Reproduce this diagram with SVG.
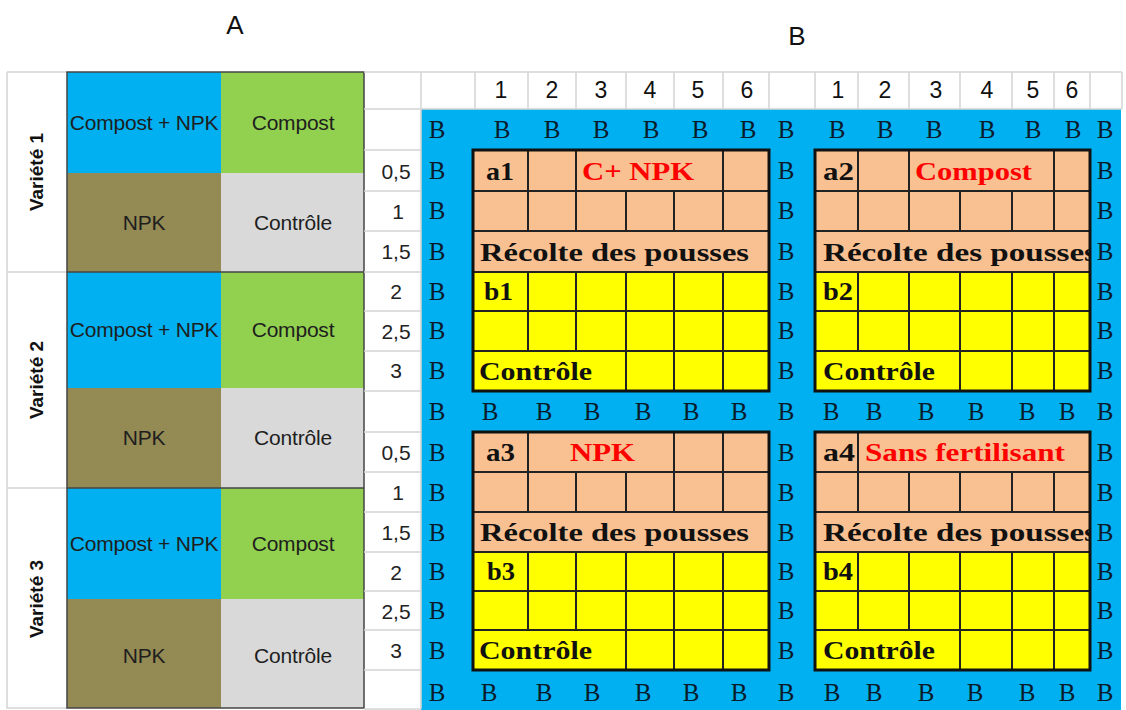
<svg xmlns="http://www.w3.org/2000/svg" width="1126" height="710" viewBox="0 0 1126 710">
<style>
.sans{font-family:"Liberation Sans",Arial,sans-serif}
.lp{font-family:"Liberation Sans",Arial,sans-serif;font-size:21px;fill:#1e1e1e;text-anchor:middle;letter-spacing:-0.2px}
.var{font-family:"Liberation Sans",Arial,sans-serif;font-size:19px;font-weight:bold;fill:#111;text-anchor:middle}
.hd{font-family:"Liberation Sans",Arial,sans-serif;font-size:23px;fill:#111;text-anchor:middle}
.rl{font-family:"Liberation Sans",Arial,sans-serif;font-size:21px;fill:#222;text-anchor:middle}
.bb{font-family:"Liberation Serif","Times New Roman",serif;font-size:25px;fill:#0a1a2a;text-anchor:middle}
.bt{font-family:"Liberation Serif","Times New Roman",serif;font-size:25px;font-weight:bold;fill:#111}
.rt{font-family:"Liberation Serif","Times New Roman",serif;font-size:25px;font-weight:bold;fill:#ff0000}
.grid{stroke:#d4d4d4;stroke-width:1.5;fill:none}
.inner{stroke:#222;stroke-width:2;fill:none}
.outer{stroke:#111;stroke-width:3;fill:none}
.sal{fill:#f9c192}
.yel{fill:#ffff00}
</style>
<defs>
<clipPath id="clip2"><rect x="815" y="231" width="274" height="41"/></clipPath>
<clipPath id="clip4"><rect x="815" y="512" width="274" height="40"/></clipPath>
</defs>
<rect width="1126" height="710" fill="#ffffff"/>

<!-- Titles -->
<text class="sans" x="235" y="34" font-size="26" text-anchor="middle" fill="#111">A</text>
<text class="sans" x="797" y="45" font-size="26" text-anchor="middle" fill="#111">B</text>

<!-- Panel A -->
<g id="panelA">
  <g id="v1">
    <rect x="67" y="72" width="154" height="101" fill="#00b0f0"/>
    <rect x="221" y="72" width="143" height="101" fill="#92d050"/>
    <rect x="67" y="173" width="154" height="99" fill="#948a54"/>
    <rect x="221" y="173" width="143" height="99" fill="#d9d9d9"/>
    <text class="lp" x="144" y="130">Compost + NPK</text>
    <text class="lp" x="293" y="130">Compost</text>
    <text class="lp" x="144" y="230">NPK</text>
    <text class="lp" x="293" y="230">Contrôle</text>
    <text class="var" transform="translate(43,172) rotate(-90)">Variété 1</text>
  </g>
  <g id="v2">
    <rect x="67" y="272" width="154" height="116" fill="#00b0f0"/>
    <rect x="221" y="272" width="143" height="116" fill="#92d050"/>
    <rect x="67" y="388" width="154" height="100" fill="#948a54"/>
    <rect x="221" y="388" width="143" height="100" fill="#d9d9d9"/>
    <text class="lp" x="144" y="337">Compost + NPK</text>
    <text class="lp" x="293" y="337">Compost</text>
    <text class="lp" x="144" y="445">NPK</text>
    <text class="lp" x="293" y="445">Contrôle</text>
    <text class="var" transform="translate(43,380) rotate(-90)">Variété 2</text>
  </g>
  <g id="v3">
    <rect x="67" y="488" width="154" height="111" fill="#00b0f0"/>
    <rect x="221" y="488" width="143" height="111" fill="#92d050"/>
    <rect x="67" y="599" width="154" height="109" fill="#948a54"/>
    <rect x="221" y="599" width="143" height="109" fill="#d9d9d9"/>
    <text class="lp" x="144" y="551">Compost + NPK</text>
    <text class="lp" x="293" y="551">Compost</text>
    <text class="lp" x="144" y="663">NPK</text>
    <text class="lp" x="293" y="663">Contrôle</text>
    <text class="var" transform="translate(43,599) rotate(-90)">Variété 3</text>
  </g>
  <path class="grid" d="M7 72 H67 M7 72 V708 H67 M7 272 H67 M7 488 H67"/>
  <rect x="67" y="72" width="297" height="636" fill="none" stroke="#444" stroke-width="1.5"/>
  <path d="M67 272 H364 M67 488 H364" stroke="#444" stroke-width="1.5"/>
</g>

<!-- Panel B background -->
<g id="panelB-grid">
  <rect x="421" y="109" width="700" height="601" fill="#00b0f0"/>
  <path class="grid" d="M364 72 H1122 M364 109 H421 M421 109 H1122 M364 150 H421 M364 191 H421 M364 231 H421 M364 272 H421 M364 311 H421 M364 351 H421 M364 391 H421 M364 432 H421 M364 472 H421 M364 512 H421 M364 552 H421 M364 591 H421 M364 630 H421 M364 670 H421 M364 709 H421"/>
  <path class="grid" d="M421 72 V709 M475 72 V109 M528 72 V109 M576 72 V109 M626 72 V109 M674 72 V109 M723 72 V109 M769 72 V109 M815 72 V109 M858 72 V109 M909 72 V109 M960 72 V109 M1012 72 V109 M1054 72 V109 M1090 72 V109 M1122 72 V109"/>
  <g id="colHeaders">
    <text class="hd" x="501" y="98">1</text>
    <text class="hd" x="552" y="98">2</text>
    <text class="hd" x="601" y="98">3</text>
    <text class="hd" x="650" y="98">4</text>
    <text class="hd" x="698" y="98">5</text>
    <text class="hd" x="747" y="98">6</text>
    <text class="hd" x="838" y="98">1</text>
    <text class="hd" x="885" y="98">2</text>
    <text class="hd" x="936" y="98">3</text>
    <text class="hd" x="987" y="98">4</text>
    <text class="hd" x="1033" y="98">5</text>
    <text class="hd" x="1072" y="98">6</text>
  </g>
  <g id="rowLabels">
    <text class="rl" x="396" y="179">0,5</text>
    <text class="rl" x="398" y="219">1</text>
    <text class="rl" x="396" y="259">1,5</text>
    <text class="rl" x="396" y="299">2</text>
    <text class="rl" x="396" y="339">2,5</text>
    <text class="rl" x="396" y="378">3</text>
    <text class="rl" x="396" y="460">0,5</text>
    <text class="rl" x="398" y="500">1</text>
    <text class="rl" x="396" y="540">1,5</text>
    <text class="rl" x="396" y="580">2</text>
    <text class="rl" x="396" y="619">2,5</text>
    <text class="rl" x="396" y="658">3</text>
  </g>
</g>

<!-- Border B labels -->
<g id="borders">
  <text class="bb" x="437" y="138">B</text><text class="bb" x="502" y="138">B</text><text class="bb" x="552" y="138">B</text><text class="bb" x="601" y="138">B</text><text class="bb" x="651" y="138">B</text><text class="bb" x="700" y="138">B</text><text class="bb" x="748" y="138">B</text><text class="bb" x="786" y="138">B</text><text class="bb" x="837" y="138">B</text><text class="bb" x="885" y="138">B</text><text class="bb" x="934" y="138">B</text><text class="bb" x="987" y="138">B</text><text class="bb" x="1033" y="138">B</text><text class="bb" x="1073" y="138">B</text><text class="bb" x="1105" y="138">B</text>
  <text class="bb" x="437" y="420">B</text><text class="bb" x="490" y="420">B</text><text class="bb" x="544" y="420">B</text><text class="bb" x="592" y="420">B</text><text class="bb" x="643" y="420">B</text><text class="bb" x="691" y="420">B</text><text class="bb" x="739" y="420">B</text><text class="bb" x="786" y="420">B</text><text class="bb" x="831" y="420">B</text><text class="bb" x="874" y="420">B</text><text class="bb" x="926" y="420">B</text><text class="bb" x="976" y="420">B</text><text class="bb" x="1027" y="420">B</text><text class="bb" x="1067" y="420">B</text><text class="bb" x="1105" y="420">B</text>
  <text class="bb" x="437" y="701">B</text><text class="bb" x="489" y="701">B</text><text class="bb" x="544" y="701">B</text><text class="bb" x="592" y="701">B</text><text class="bb" x="643" y="701">B</text><text class="bb" x="691" y="701">B</text><text class="bb" x="739" y="701">B</text><text class="bb" x="786" y="701">B</text><text class="bb" x="832" y="701">B</text><text class="bb" x="874" y="701">B</text><text class="bb" x="926" y="701">B</text><text class="bb" x="975" y="701">B</text><text class="bb" x="1027" y="701">B</text><text class="bb" x="1067" y="701">B</text><text class="bb" x="1105" y="701">B</text>
  <g id="sideB">
    <text class="bb" x="437" y="179">B</text><text class="bb" x="786" y="179">B</text><text class="bb" x="1105" y="179">B</text>
    <text class="bb" x="437" y="219">B</text><text class="bb" x="786" y="219">B</text><text class="bb" x="1105" y="219">B</text>
    <text class="bb" x="437" y="260">B</text><text class="bb" x="786" y="260">B</text><text class="bb" x="1105" y="260">B</text>
    <text class="bb" x="437" y="300">B</text><text class="bb" x="786" y="300">B</text><text class="bb" x="1105" y="300">B</text>
    <text class="bb" x="437" y="339">B</text><text class="bb" x="786" y="339">B</text><text class="bb" x="1105" y="339">B</text>
    <text class="bb" x="437" y="379">B</text><text class="bb" x="786" y="379">B</text><text class="bb" x="1105" y="379">B</text>
    <text class="bb" x="437" y="461">B</text><text class="bb" x="786" y="461">B</text><text class="bb" x="1105" y="461">B</text>
    <text class="bb" x="437" y="501">B</text><text class="bb" x="786" y="501">B</text><text class="bb" x="1105" y="501">B</text>
    <text class="bb" x="437" y="541">B</text><text class="bb" x="786" y="541">B</text><text class="bb" x="1105" y="541">B</text>
    <text class="bb" x="437" y="580">B</text><text class="bb" x="786" y="580">B</text><text class="bb" x="1105" y="580">B</text>
    <text class="bb" x="437" y="619">B</text><text class="bb" x="786" y="619">B</text><text class="bb" x="1105" y="619">B</text>
    <text class="bb" x="437" y="659">B</text><text class="bb" x="786" y="659">B</text><text class="bb" x="1105" y="659">B</text>
  </g>
</g>

<!-- Block 1 -->
<g id="block1">
  <rect class="sal" x="473" y="150" width="296" height="122"/>
  <rect class="yel" x="473" y="272" width="296" height="119"/>
  <path class="inner" d="M473 191 H769 M473 231 H769 M473 272 H769 M473 311 H769 M473 351 H769"/>
  <path class="inner" d="M528 150 V191 M576 150 V191 M723 150 V191 M528 191 V231 M576 191 V231 M626 191 V231 M674 191 V231 M723 191 V231 M528 272 V351 M576 272 V351 M626 272 V391 M674 272 V391 M723 272 V391"/>
  <rect class="outer" x="473" y="150" width="296" height="241"/>
  <text class="bt" x="486" y="180" textLength="28" lengthAdjust="spacingAndGlyphs">a1</text>
  <text class="rt" x="582" y="180" textLength="112" lengthAdjust="spacingAndGlyphs">C+ NPK</text>
  <text class="bt" x="480" y="261" textLength="269" lengthAdjust="spacingAndGlyphs">Récolte des pousses</text>
  <text class="bt" x="484" y="300" textLength="29" lengthAdjust="spacingAndGlyphs">b1</text>
  <text class="bt" x="479" y="380" textLength="113" lengthAdjust="spacingAndGlyphs">Contrôle</text>
</g>

<!-- Block 2 -->
<g id="block2">
  <rect class="sal" x="815" y="150" width="275" height="122"/>
  <rect class="yel" x="815" y="272" width="275" height="119"/>
  <path class="inner" d="M815 191 H1090 M815 231 H1090 M815 272 H1090 M815 311 H1090 M815 351 H1090"/>
  <path class="inner" d="M858 150 V191 M909 150 V191 M1054 150 V191 M858 191 V231 M909 191 V231 M960 191 V231 M1012 191 V231 M1054 191 V231 M858 272 V351 M909 272 V351 M960 272 V391 M1012 272 V391 M1054 272 V391"/>
  <text class="bt" x="823" y="180" textLength="31" lengthAdjust="spacingAndGlyphs">a2</text>
  <text class="rt" x="915" y="180" textLength="117" lengthAdjust="spacingAndGlyphs">Compost</text>
  <text class="bt" x="823" y="261" textLength="274" lengthAdjust="spacingAndGlyphs" clip-path="url(#clip2)">Récolte des pousses</text>
  <text class="bt" x="823" y="300" textLength="30" lengthAdjust="spacingAndGlyphs">b2</text>
  <text class="bt" x="823" y="380" textLength="112" lengthAdjust="spacingAndGlyphs">Contrôle</text>
  <rect class="outer" x="815" y="150" width="275" height="241"/>
</g>

<!-- Block 3 -->
<g id="block3">
  <rect class="sal" x="473" y="432" width="296" height="120"/>
  <rect class="yel" x="473" y="552" width="296" height="118"/>
  <path class="inner" d="M473 472 H769 M473 512 H769 M473 552 H769 M473 591 H769 M473 630 H769"/>
  <path class="inner" d="M528 432 V472 M674 432 V472 M723 432 V472 M528 472 V512 M576 472 V512 M626 472 V512 M674 472 V512 M723 472 V512 M528 552 V630 M576 552 V630 M626 552 V670 M674 552 V670 M723 552 V670"/>
  <rect class="outer" x="473" y="432" width="296" height="238"/>
  <text class="bt" x="486" y="461" textLength="29" lengthAdjust="spacingAndGlyphs">a3</text>
  <text class="rt" x="570" y="461" textLength="65" lengthAdjust="spacingAndGlyphs">NPK</text>
  <text class="bt" x="480" y="541" textLength="269" lengthAdjust="spacingAndGlyphs">Récolte des pousses</text>
  <text class="bt" x="487" y="580" textLength="28" lengthAdjust="spacingAndGlyphs">b3</text>
  <text class="bt" x="479" y="659" textLength="113" lengthAdjust="spacingAndGlyphs">Contrôle</text>
</g>

<!-- Block 4 -->
<g id="block4">
  <rect class="sal" x="815" y="432" width="275" height="120"/>
  <rect class="yel" x="815" y="552" width="275" height="118"/>
  <path class="inner" d="M815 472 H1090 M815 512 H1090 M815 552 H1090 M815 591 H1090 M815 630 H1090"/>
  <path class="inner" d="M858 432 V472 M858 472 V512 M909 472 V512 M960 472 V512 M1012 472 V512 M1054 472 V512 M858 552 V630 M909 552 V630 M960 552 V670 M1012 552 V670 M1054 552 V670"/>
  <text class="bt" x="823" y="461" textLength="32" lengthAdjust="spacingAndGlyphs">a4</text>
  <text class="rt" x="865" y="461" textLength="200" lengthAdjust="spacingAndGlyphs">Sans fertilisant</text>
  <text class="bt" x="823" y="541" textLength="274" lengthAdjust="spacingAndGlyphs" clip-path="url(#clip4)">Récolte des pousses</text>
  <text class="bt" x="823" y="580" textLength="30" lengthAdjust="spacingAndGlyphs">b4</text>
  <text class="bt" x="823" y="659" textLength="112" lengthAdjust="spacingAndGlyphs">Contrôle</text>
  <rect class="outer" x="815" y="432" width="275" height="238"/>
</g>
</svg>
